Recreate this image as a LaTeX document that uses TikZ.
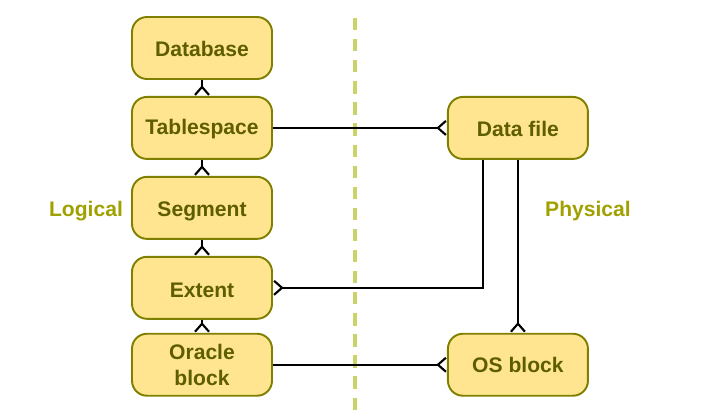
\documentclass[tikz,border=0pt]{standalone}
\usepackage{fontspec}
\setmainfont{Liberation Sans}
\usetikzlibrary{positioning,arrows.meta}

\definecolor{boxfill}{HTML}{FFE58F}
\definecolor{boxline}{HTML}{7F7F00}
\definecolor{boxtext}{HTML}{5E5E00}
\definecolor{sidetext}{HTML}{A0A000}
\definecolor{divider}{HTML}{CCD26A}

\tikzset{
  entity/.style={draw=boxline, fill=boxfill, line width=1.1pt, rounded corners=0.3cm,
    minimum width=2.8cm, minimum height=1.24cm, align=center, text=boxtext,
    font=\fontsize{12}{14.5}\selectfont\bfseries},
  lowered/.style={text height=#1},
  lowered/.default=0.95em,
  side/.style={text=sidetext, font=\fontsize{12}{14.5}\selectfont\bfseries},
  many/.style={line width=1.3pt, -{Straight Barb[reversed, length=1.6mm, width=2.8mm, line width=1.2pt]}}
}

\begin{document}
\begin{tikzpicture}[node distance=0.32cm, auto]
    \useasboundingbox (0,0) rectangle (14.36,-8.38);

    \draw[divider, line width=2pt, dash pattern=on 7pt off 5pt] (7.1,-0.36) -- (7.1,-8.2);

    \node[entity, lowered] (db) at (4.04,-0.96) {Database};
    \node[entity, lowered, below=of db] (tspace) {Tablespace};
    \node[entity, lowered=1.2em, below=of tspace] (segment) {Segment};
    \node[entity, lowered=1.15em, below=of segment] (extent) {Extent};
    \node[entity, below=0.26cm of extent] (oblock) {Oracle\\block};
    \node[entity, lowered, right=3.48cm of tspace] (dfile) {Data file};
    \node[entity, lowered, right=3.48cm of oblock] (osblock) {OS block};

    \node[side] (logical) at (1.72,-4.22) {Logical};
    \node[side] (physical) at (11.76,-4.22) {Physical};

    \draw[many] (db) -- (tspace);
    \draw[many] (tspace) -- (segment);
    \draw[many] (segment) -- (extent);
    \draw[many] (extent) -- (oblock);
    \draw[many] (tspace) -- (dfile);
    \draw[many] ([xshift=-0.7cm]dfile.south) |- (extent.east);
    \draw[many] (dfile) -- (osblock);
    \draw[many] (oblock) -- (osblock);
  \end{tikzpicture}
\end{document}
